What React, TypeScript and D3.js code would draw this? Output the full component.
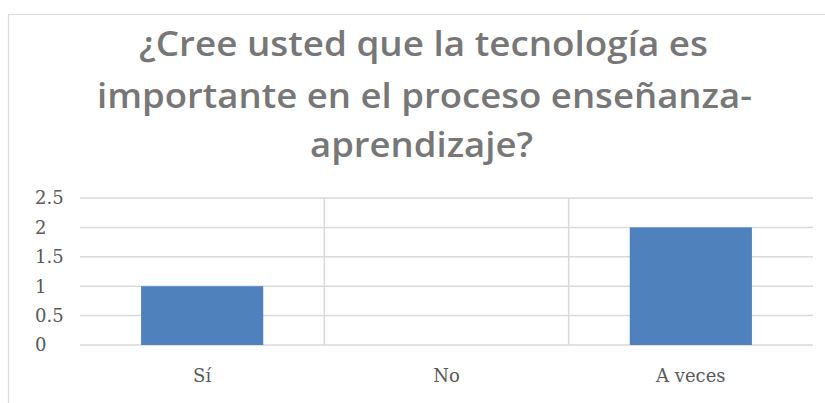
import React from "react";
import * as d3 from "d3";

const categories = ["Sí", "No", "A veces"];
const values = [1, 0, 2];
const yTicks = [0, 0.5, 1, 1.5, 2, 2.5];
const titleLines = [
  "¿Cree usted que la tecnología es",
  "importante en el proceso enseñanza-",
  "aprendizaje?",
];

export default function App() {
  const W = 825;
  const H = 403;
  const left = 80;
  const right = 813;
  const top = 198;
  const bottom = 345;

  const x = d3
    .scaleBand<string>()
    .domain(categories)
    .range([left, right])
    .paddingInner(0.5)
    .paddingOuter(0.25);
  const y = d3.scaleLinear().domain([0, 2.5]).range([bottom, top]);
  const step = x.step();
  const boundaries = categories.slice(1).map((c) => (x(c) as number) - step * 0.25);

  const grid = "#d9d9d9";
  const titleY = [56, 108, 157];
  const titleW = [569, 655, 223];
  const titleX = [139, 97, 310];

  return (
    <svg
      width={W}
      height={H}
      style={{ position: "absolute", left: 0, top: 0, background: "#fff" }}
    >
      <rect x={0} y={0} width={W} height={H} fill="#fff" />
      <line x1={8} x2={W} y1={14.5} y2={14.5} stroke={grid} strokeWidth={1.2} />
      <line x1={8.5} x2={8.5} y1={14.5} y2={H} stroke={grid} strokeWidth={1.2} />

      {titleLines.map((t, i) => (
        <text
          key={i}
          x={titleX[i]}
          y={titleY[i]}
          textLength={titleW[i]}
          lengthAdjust="spacingAndGlyphs"
          fontFamily="'Open Sans', sans-serif"
          fontWeight={600}
          fontSize={35}
          fill="#777777"
        >
          {t}
        </text>
      ))}

      {yTicks.map((t) => (
        <g key={t}>
          <line
            x1={left}
            x2={right}
            y1={y(t)}
            y2={y(t)}
            stroke={grid}
            strokeWidth={1.5}
          />
          <text
            x={35}
            y={y(t)}
            dy="0.36em"
            fontFamily="'DejaVu Serif', serif"
            fontSize={18}
            fill="#595959"
          >
            {String(t)}
          </text>
        </g>
      ))}

      {boundaries.map((b, i) => (
        <line
          key={i}
          x1={b}
          x2={b}
          y1={top}
          y2={bottom}
          stroke={grid}
          strokeWidth={1.5}
        />
      ))}

      {categories.map((c, i) => (
        <rect
          key={c}
          x={x(c)}
          y={y(values[i])}
          width={x.bandwidth()}
          height={bottom - y(values[i])}
          fill="#4F81BD"
        />
      ))}

      {categories.map((c) => (
        <text
          key={c}
          x={(x(c) as number) + x.bandwidth() / 2}
          y={382}
          textAnchor="middle"
          fontFamily="'DejaVu Serif', serif"
          fontSize={18}
          fill="#595959"
        >
          {c}
        </text>
      ))}
    </svg>
  );
}
